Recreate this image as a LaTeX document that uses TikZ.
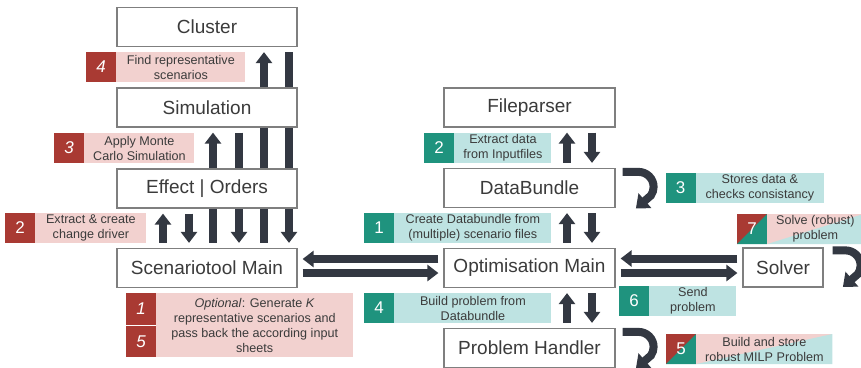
\documentclass[tikz,border=0pt]{standalone}
\usepackage{fontspec}
\setmainfont{Liberation Sans}
\usetikzlibrary{arrows.meta,backgrounds,positioning}

\definecolor{arrowgray}{HTML}{333842}
\definecolor{framegray}{HTML}{7F7F7F}
\definecolor{textgray}{HTML}{3B3B3B}
\definecolor{stred}{HTML}{A93A33}
\definecolor{stpink}{HTML}{F2D1CF}
\definecolor{opteal}{HTML}{1F937E}
\definecolor{oplight}{HTML}{BEE3E2}

\tikzset{
  module/.style={draw=framegray, line width=1.2pt, fill=white, minimum height=39pt,
    text=textgray, font=\fontsize{19}{23}\selectfont},
  badge/.style={minimum size=30pt, inner sep=0pt, text=white, font=\fontsize{17}{20}\selectfont},
  note/.style={anchor=west, minimum height=30pt, inner sep=0pt, align=center,
    text=textgray, font=\fontsize{12.6}{15}\selectfont},
  redbadge/.style={badge, fill=stred},
  tealbadge/.style={badge, fill=opteal},
  splitbadge/.style={badge, fill=stred, path picture={
    \fill[opteal] (path picture bounding box.south west) -- (path picture bounding box.south east)
      -- (path picture bounding box.north east) -- cycle;}},
  splitnote/.style={note, fill=stpink, path picture={
    \fill[oplight] (path picture bounding box.south west) -- (path picture bounding box.south east)
      -- (path picture bounding box.north east) -- cycle;}},
  flow/.style={draw=arrowgray, line width=8pt, -{Triangle[width=16pt,length=11pt]},
    shorten <=5pt, shorten >=5pt},
  uturn/.style={draw=arrowgray, line width=8pt, -{Triangle[width=19pt,length=12pt]}},
}

\begin{document}
\begin{tikzpicture}[x=1pt, y=-1pt]
  \useasboundingbox (0,0) rectangle (861,367);

  % scenario tool side
  \node[module, minimum width=180pt] (cluster) at (207,27)    {Cluster};
  \node[module, minimum width=180pt] (sim)     at (207,107.5) {Simulation};
  \node[module, minimum width=180pt] (effect)  at (207,188.5) {Effect | Orders};
  \node[module, minimum width=180pt] (stmain)  at (207,268)   {Scenariotool Main};

  % optimisation side
  \node[module, minimum width=171pt] (parser)  at (529.5,107.5) {Fileparser};
  \node[module, minimum width=171pt] (bundle)  at (529.5,188)   {DataBundle};
  \node[module, minimum width=171pt] (optmain) at (529.5,268)   {Optimisation Main};
  \node[module, minimum width=171pt] (handler) at (529.5,348)   {Problem Handler};
  \node[module, minimum width=80pt]  (solver)  at (783,267.5)   {Solver};

  % arrows behind the boxes
  \begin{pgfonlayer}{background}
    \draw[flow] ([xshift=57pt]stmain.north)  -- ([xshift=57pt]cluster.south);
    \draw[flow] ([xshift=82pt]cluster.south) -- ([xshift=82pt]stmain.north);
    \draw[flow] ([xshift=6pt]stmain.north)   -- ([xshift=6pt]sim.south);
    \draw[flow] ([xshift=32pt]sim.south)     -- ([xshift=32pt]stmain.north);
    \draw[flow] ([xshift=-44pt]stmain.north) -- ([xshift=-44pt]effect.south);
    \draw[flow] ([xshift=-18pt]effect.south) -- ([xshift=-18pt]stmain.north);
  \end{pgfonlayer}

  \draw[flow] ([yshift=9pt]optmain.west) -- ([yshift=9pt]optmain.west -| stmain.east);
  \draw[flow] ([yshift=-5pt]stmain.east) -- ([yshift=-5pt]stmain.east -| optmain.west);
  \draw[flow] ([yshift=9pt]solver.west)  -- ([yshift=9pt]solver.west -| optmain.east);
  \draw[flow] ([yshift=-5pt]optmain.east) -- ([yshift=-5pt]optmain.east -| solver.west);

  \draw[flow] ([xshift=37.5pt]bundle.north) -- ([xshift=37.5pt]parser.south);
  \draw[flow] ([xshift=62.5pt]parser.south) -- ([xshift=62.5pt]bundle.north);
  \draw[flow] ([xshift=37.5pt]optmain.north) -- ([xshift=37.5pt]bundle.south);
  \draw[flow] ([xshift=62.5pt]bundle.south)  -- ([xshift=62.5pt]optmain.north);
  \draw[flow] ([xshift=37.5pt]handler.north) -- ([xshift=37.5pt]optmain.south);
  \draw[flow] ([xshift=62.5pt]optmain.south) -- ([xshift=62.5pt]handler.north);

  % self loops
  \draw[uturn] ([xshift=7pt,yshift=-4pt]bundle.north east) -- ++(16,0)
    arc[start angle=90, end angle=-35, radius=15pt] -- ++(-15,13);
  \draw[uturn] ([xshift=7pt,yshift=-4pt]handler.north east) -- ++(16,0)
    arc[start angle=90, end angle=-35, radius=15pt] -- ++(-15,13);
  \draw[uturn] ([xshift=9pt,yshift=-3pt]solver.north east) -- ++(13,0)
    arc[start angle=90, end angle=-35, radius=15pt] -- ++(-15,13);

  % scenario tool steps
  \node[redbadge] (b4) at (101,67) {\textit{4}};
  \node[note, fill=stpink, minimum width=129pt] (n4) at (b4.east) {Find representative\\scenarios};
  \node[redbadge] (b3) at (69,148) {\textit{3}};
  \node[note, fill=stpink, minimum width=110pt] (n3) at (b3.east) {Apply Monte\\Carlo Simulation};
  \node[redbadge] (b2) at (20,228) {2};
  \node[note, fill=stpink, minimum width=111pt] (n2) at (b2.east) {Extract \& create\\change driver};
  \node[redbadge, minimum height=32pt] (b1) at (141,309) {\textit{1}};
  \node[redbadge, minimum height=31pt, below=1pt of b1] (b5) {\textit{5}};
  \node[note, fill=stpink, minimum width=197pt, minimum height=64pt] (n15) at (156,325)
    {\textit{Optional}: Generate \textit{K}\\representative scenarios and\\pass back the according input\\sheets};

  % optimisation steps
  \node[tealbadge] (t2) at (439,148) {2};
  \node[note, fill=oplight, minimum width=97pt] (m2) at (t2.east) {Extract data\\from Inputfiles};
  \node[tealbadge] (t3) at (680.5,188) {3};
  \node[note, fill=oplight, minimum width=128pt] (m3) at (t3.east) {Stores data \&\\checks consistancy};
  \node[tealbadge] (t1) at (379,228) {1};
  \node[note, fill=oplight, minimum width=157pt] (m1) at (t1.east) {Create Databundle from\\(multiple) scenario files};
  \node[tealbadge] (t4) at (379,308) {4};
  \node[note, fill=oplight, minimum width=157pt] (m4) at (t4.east) {Build problem from\\Databundle};
  \node[tealbadge] (t6) at (634,301) {6};
  \node[note, fill=oplight, minimum width=87pt] (m6) at (t6.east) {Send\\problem};
  \node[splitbadge] (t7) at (752,229) {7};
  \node[splitnote, minimum width=96pt] (m7) at (t7.east) {Solve (robust)\\problem};
  \node[splitbadge] (t5) at (681,349) {5};
  \node[splitnote, minimum width=136pt] (m5) at (t5.east) {Build and store\\robust MILP Problem};
\end{tikzpicture}
\end{document}
